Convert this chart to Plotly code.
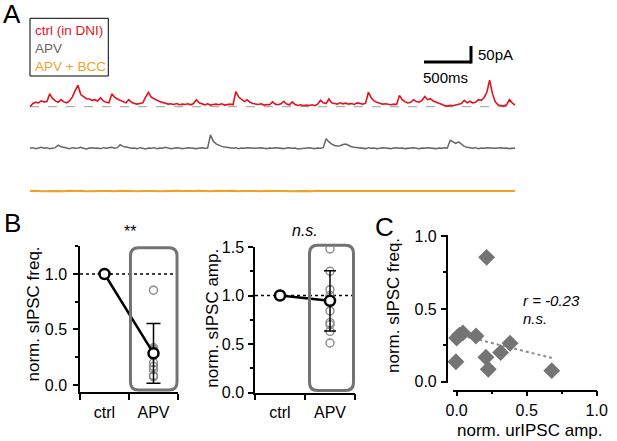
import numpy as np
import plotly.graph_objects as go

# ---------------- data ----------------
trace_dt_ms = 30
red_trace_pA = [
    0, 10, 14, 12, 18, 15, 16, 40, 26, 18,
    14, 22, 15, 12, 18, 30, 50, 67, 38, 30,
    25, 24, 20, 22, 18, 28, 18, 14, 12, 40,
    30, 24, 20, 15, 12, 22, 14, 10, 8, 10,
    12, 30, 45, 30, 24, 20, 16, 14, 10, 8,
    9, 7, 10, 6, 8, 7, 9, 6, 10, 22,
    12, 8, 6, 9, 5, 7, 8, 6, 9, 5,
    7, 8, 6, 47, 30, 22, 16, 22, 14, 10,
    8, 7, 9, 5, 7, 6, 15, 8, 6, 9,
    17, 8, 6, 15, 7, 4, 6, 3, 5, 4,
    6, 3, 8, 20, 12, 10, 24, 12, 10, 8,
    12, 9, 11, 8, 10, 7, 12, 9, 8, 11,
    45, 28, 18, 14, 10, 8, 9, 7, 6, 8,
    7, 35, 22, 15, 12, 14, 22, 16, 14, 20,
    32, 22, 25, 18, 14, 12, 8, 4, 2, 4,
    3, 5, 6, 10, 20, 12, 17, 12, 14, 22,
    20, 28, 45, 83, 40, 15, 5, 3, 2, 6,
    22, 12, 5,
]
gray_trace_pA = [
    0, 2, -1, 1, 3, 0, 2, -1, 1, 2,
    10, 5, 3,
    1, -1, 2, 0, 1, 3, 0, -2, 1, 2, 0, 1, -1, 2, 0, 1, 3, 0, 2,
    11, 6, 4, 2,
    0, 1, -1, 2, 0, -2, 1, 0, 2, -1, 1, 0, 3, 1, -1, 0, 2, 1, -1, 0, 2, 1, 0, -1, 1, 2, 0, 1,
    42, 22, 14, 9, 6, 4, 3,
    1, 0, 2, -1, 1, 0, 2, 1, -1, 0, 1, 2, 0, -1, 1, 0, 2, 1, 0, -1, 1, 2, 0, 1, -2, -1, 0, 1, 2, 0, -1, 1, 0, 2,
    30, 20, 13, 9, 7, 8, 12, 13, 8, 5, 3, 2,
    0, 1, -1, 2, 0, 1, -1, 0, 2, 1, 0, -1, 1, 2, 0, 1, -1, 0, 1, 2, 0, -1, 1, 0, 2, 1, 0, -1, 1, 0, 2, 1,
    25, 20, 15, 20, 12, 6, 3,
    1, 0, 2, -1, 1, 0, 2, 1, -1, 0, 1, 2, 0, 1, -1, 0, 1,
]
orange_dt_ms = 60
orange_trace_pA = [
    0, 1, -1, 0, 1, 0, -1, 1, 0, 1,
    -1, 0, 1, 0, 0, -1, 1, 0, 1, -1,
    0, 1, 0, -1, 0, 1, 1, 0, -1, 0,
    1, 0, -1, 1, 0, 0, 1, -1, 0, 1,
    0, -1, 1, 0, 1, 0, -1, 0, 1, 0,
    -1, 1, 0, 0, 1, -1, 0, 1, 0, -1,
    1, 0, 1, -1, 0, 0, 1, 0, -1, 1,
    0, 1, -1, 0, 1, 0, -1, 0, 1, 0,
    -1, 1, 0, 1, 0, -1, 0,
]
legend_labels = ["ctrl (in DNI)", "APV", "APV + BCC"]
scalebar_ms = 500
scalebar_pA = 50

conditions = ["ctrl", "APV"]
freq_means = [1.0, 0.285]
freq_sd = [0.0, 0.27]
amp_means = [1.0, 0.945]
amp_sd = [0.0, 0.31]
amp_apv_cells = [1.48, 1.25, 1.06, 1.0, 0.94, 0.93, 0.84, 0.72, 0.70, 0.63, 0.51]

uripsc_amp = [0.214, 0.0, 0.02, 0.045, 0.138, -0.005, 0.209, 0.226, 0.314, 0.381, 0.679]
sipsc_freq = [0.854, 0.30, 0.32, 0.335, 0.314, 0.137, 0.168, 0.085, 0.20, 0.264, 0.076]
corr_text = ["r = -0.23", "n.s."]

# ---------------- layout helpers ----------------
W, H = 617, 441
FONT = "Liberation Sans, Arial, sans-serif"
RED, GRAY, ORANGE = "#e3121c", "#666666", "#eea228"
PT_GRAY = "#8a8a8a"


def px_x(p):
    return p / W


def px_y(p):
    return 1 - p / H


ms_per_px = scalebar_ms / 47.0
pA_per_px = scalebar_pA / 16.0
trace_x0_px, red_base_px = 30, 106.7
trace_offsets_pA = [0, -(148.3 - red_base_px) * pA_per_px, -(191.0 - red_base_px) * pA_per_px]

top_xrange = [-trace_x0_px * ms_per_px, (W - trace_x0_px) * ms_per_px]
top_ydom = [px_y(200), 1]
top_yrange = [(red_base_px - 200) * pA_per_px, red_base_px * pA_per_px]

b1_xdom = [px_x(80), px_x(178)]
b1_ydom = [px_y(392), px_y(246)]
b1_yrange = [-0.063, 1.252]
b2_xdom = [px_x(255), px_x(355)]
b2_ydom = [px_y(392.5), px_y(247)]
b2_yrange = [0, 1.5]
cat_range = [-0.5, 1.5]
c_xdom = [px_x(453), px_x(596.7)]
c_ydom = [px_y(383.3), px_y(235)]
c_xrange = [-0.026, 1.0]
c_yrange = [-0.011, 1.0075]


def to_paper(v, dom, rng):
    return dom[0] + (v - rng[0]) / (rng[1] - rng[0]) * (dom[1] - dom[0])


fig = go.Figure()

# ---------------- A: traces ----------------
t_main = np.arange(len(red_trace_pA)) * trace_dt_ms
t_gray = np.arange(len(gray_trace_pA)) * trace_dt_ms
t_orange = np.arange(len(orange_trace_pA)) * orange_dt_ms

fig.add_shape(type="line", xref="x", yref="y", x0=0, x1=t_main[-1], y0=0, y1=0,
              line=dict(color="#9a9a9a", width=1, dash="dash"), layer="below")
fig.add_trace(go.Scatter(x=t_main, y=np.array(red_trace_pA) + trace_offsets_pA[0], mode="lines",
                         line=dict(color=RED, width=1.6), xaxis="x", yaxis="y", hoverinfo="skip"))
fig.add_trace(go.Scatter(x=t_gray, y=np.array(gray_trace_pA) + trace_offsets_pA[1], mode="lines",
                         line=dict(color=GRAY, width=1.5), xaxis="x", yaxis="y", hoverinfo="skip"))
fig.add_trace(go.Scatter(x=t_orange, y=np.array(orange_trace_pA) + trace_offsets_pA[2], mode="lines",
                         line=dict(color=ORANGE, width=2), xaxis="x", yaxis="y", hoverinfo="skip"))

# scale bar
sb_x = (424 - trace_x0_px) * ms_per_px
sb_y = (red_base_px - 62) * pA_per_px
fig.add_shape(type="line", xref="x", yref="y", x0=sb_x, x1=sb_x + scalebar_ms, y0=sb_y, y1=sb_y,
              line=dict(color="black", width=3))
fig.add_shape(type="line", xref="x", yref="y", x0=sb_x + scalebar_ms, x1=sb_x + scalebar_ms,
              y0=sb_y - 1.5 * pA_per_px, y1=sb_y + scalebar_pA, line=dict(color="black", width=3))
fig.add_annotation(x=sb_x + scalebar_ms, y=sb_y + scalebar_pA / 2, xref="x", yref="y",
                   text=f"{scalebar_pA}pA", showarrow=False, xanchor="left", xshift=5,
                   font=dict(size=15, family=FONT, color="black"))
fig.add_annotation(x=sb_x, y=sb_y, xref="x", yref="y", text=f"{scalebar_ms}ms", showarrow=False,
                   xanchor="left", yanchor="top", yshift=-5, xshift=-3,
                   font=dict(size=15, family=FONT, color="black"))

# legend box
fig.add_shape(type="rect", xref="paper", yref="paper", x0=px_x(30), x1=px_x(108.3),
              y0=px_y(76), y1=px_y(18.3), line=dict(color="black", width=1))
for lbl, col, yc in zip(legend_labels, [RED, GRAY, ORANGE], [30.5, 48.5, 67]):
    fig.add_annotation(x=px_x(32.5), y=px_y(yc), xref="paper", yref="paper", text=lbl,
                       showarrow=False, xanchor="left", yanchor="middle",
                       font=dict(size=13.5, family=FONT, color=col))

# ---------------- B: freq ----------------
fig.add_trace(go.Scatter(x=cat_range, y=[1, 1], mode="lines", xaxis="x2", yaxis="y2",
                         line=dict(color="black", width=1.5, dash="dot"), hoverinfo="skip"))
fig.add_trace(go.Scatter(x=[1] * len(sipsc_freq), y=sipsc_freq, mode="markers", xaxis="x2", yaxis="y2",
                         marker=dict(symbol="circle-open", size=8, color=PT_GRAY, line=dict(width=1.4)),
                         hoverinfo="skip"))
fig.add_trace(go.Scatter(x=[0, 1], y=freq_means, mode="lines+markers", xaxis="x2", yaxis="y2",
                         line=dict(color="black", width=2.5),
                         marker=dict(symbol="circle", size=10, color="white", line=dict(color="black", width=2.5)),
                         error_y=dict(type="data", array=freq_sd, color="black", thickness=1.5, width=7),
                         hoverinfo="skip"))

# ---------------- B: amp ----------------
fig.add_trace(go.Scatter(x=cat_range, y=[1, 1], mode="lines", xaxis="x3", yaxis="y3",
                         line=dict(color="black", width=1.5, dash="dot"), hoverinfo="skip"))
fig.add_trace(go.Scatter(x=[1] * len(amp_apv_cells), y=amp_apv_cells, mode="markers", xaxis="x3", yaxis="y3",
                         marker=dict(symbol="circle-open", size=8, color=PT_GRAY, line=dict(width=1.4)),
                         hoverinfo="skip"))
fig.add_trace(go.Scatter(x=[0, 1], y=amp_means, mode="lines+markers", xaxis="x3", yaxis="y3",
                         line=dict(color="black", width=2.5),
                         marker=dict(symbol="circle", size=10, color="white", line=dict(color="black", width=2.5)),
                         error_y=dict(type="data", array=amp_sd, color="black", thickness=1.5, width=6),
                         hoverinfo="skip", cliponaxis=False))


def rounded_box(x0, x1, y0, y1, r=8):
    rx, ry = r / W, r / H
    return (f"M {x0+rx},{y0} L {x1-rx},{y0} Q {x1},{y0} {x1},{y0+ry} "
            f"L {x1},{y1-ry} Q {x1},{y1} {x1-rx},{y1} L {x0+rx},{y1} Q {x0},{y1} {x0},{y1-ry} "
            f"L {x0},{y0+ry} Q {x0},{y0} {x0+rx},{y0} Z")


# highlight boxes around APV category
for xdom, ydom, yr, bx, by in [
    (b1_xdom, b1_ydom, b1_yrange, (0.53, 1.48), (-0.045, 1.236)),
    (b2_xdom, b2_ydom, b2_yrange, (0.59, 1.47), (0.02, 1.518)),
]:
    x0 = to_paper(bx[0], xdom, cat_range)
    x1 = to_paper(bx[1], xdom, cat_range)
    y0 = to_paper(by[0], ydom, yr)
    y1 = to_paper(by[1], ydom, yr)
    fig.add_shape(type="path", xref="paper", yref="paper", path=rounded_box(x0, x1, y0, y1),
                  line=dict(color="#737373", width=3))

# ---------------- C: scatter ----------------
slope, intercept = np.polyfit(uripsc_amp, sipsc_freq, 1)
fit_x = np.array([min(uripsc_amp), max(uripsc_amp)])
fig.add_trace(go.Scatter(x=fit_x, y=slope * fit_x + intercept, mode="lines", xaxis="x4", yaxis="y4",
                         line=dict(color="#8c8c8c", width=2, dash="dot"), hoverinfo="skip"))
fig.add_trace(go.Scatter(x=uripsc_amp, y=sipsc_freq, mode="markers", xaxis="x4", yaxis="y4",
                         marker=dict(symbol="diamond", size=13, color="#747474", line=dict(width=0)),
                         hoverinfo="skip", cliponaxis=False))

# ---------------- axes ----------------
ax_common = dict(showline=True, linecolor="black", linewidth=1.5, ticks="outside", ticklen=5,
                 tickwidth=1.5, tickcolor="black", showgrid=False, zeroline=False, automargin=False,
                 tickfont=dict(size=16, family=FONT, color="black"))
minor_y = dict(dtick=0.25, ticks="outside", ticklen=3, tickwidth=1.5, tickcolor="black", showgrid=False)
cat_x = dict(ax_common, range=cat_range, tickvals=[0, 1], ticktext=conditions, ticklen=5,
             tickcolor="rgba(0,0,0,0)",
             minor=dict(tickvals=[-0.5, 0.5, 1.5], ticks="outside", ticklen=6, tickwidth=1.5,
                        tickcolor="black", showgrid=False))

fig.update_layout(
    width=W, height=H, margin=dict(l=0, r=0, t=0, b=0, autoexpand=False),
    paper_bgcolor="white", plot_bgcolor="rgba(0,0,0,0)", showlegend=False,
    font=dict(family=FONT, color="black"),
    xaxis=dict(domain=[0, 1], range=top_xrange, visible=False, anchor="y", automargin=False),
    yaxis=dict(domain=top_ydom, range=top_yrange, visible=False, anchor="x", automargin=False),
    xaxis2=dict(cat_x, domain=b1_xdom, anchor="y2"),
    yaxis2=dict(ax_common, domain=b1_ydom, range=b1_yrange, anchor="x2",
                tickvals=[0, 0.5, 1.0], tickformat=".1f", minor=minor_y, ticklabelstandoff=3),
    xaxis3=dict(cat_x, domain=b2_xdom, anchor="y3"),
    yaxis3=dict(ax_common, domain=b2_ydom, range=b2_yrange, anchor="x3",
                tickvals=[0, 0.5, 1.0, 1.5], tickformat=".1f", minor=minor_y, ticklabelstandoff=1),
    xaxis4=dict(ax_common, domain=c_xdom, range=c_xrange, anchor="free", position=px_y(390.7),
                tickvals=[0, 0.5, 1.0], tickformat=".1f", minor=minor_y),
    yaxis4=dict(ax_common, domain=c_ydom, range=c_yrange, anchor="free", position=px_x(446.7),
                tickvals=[0, 0.5, 1.0], tickformat=".1f", minor=minor_y, ticklabelstandoff=1),
)

# ---------------- text ----------------
def ann(x, y, text, size=17, angle=0, italic=False, xanchor="center"):
    fig.add_annotation(x=px_x(x), y=px_y(y), xref="paper", yref="paper", text=text, showarrow=False,
                       textangle=angle, xanchor=xanchor, yanchor="middle",
                       font=dict(size=size, family=FONT, color="black",
                                 style="italic" if italic else "normal"))


ann(12, 14.5, "A", size=26)
ann(12.5, 223, "B", size=26)
ann(384.5, 226.5, "C", size=26)
ann(32.5, 314, "norm. sIPSC freq.", angle=-90)
ann(211.7, 318, "norm. sIPSC amp.", angle=-90)
ann(393, 306, "norm. sIPSC freq.", angle=-90)
ann(530, 430, "norm. urIPSC amp.")
ann(130, 232, "**", size=16)
ann(305, 230, "n.s.", size=16, italic=True)
ann(521, 300, corr_text[0], size=15, italic=True, xanchor="left")
ann(521, 318.5, corr_text[1], size=15, italic=True, xanchor="left")

fig.write_html("out.html", config={"displayModeBar": False},
               post_script="document.body.style.margin='0';")
